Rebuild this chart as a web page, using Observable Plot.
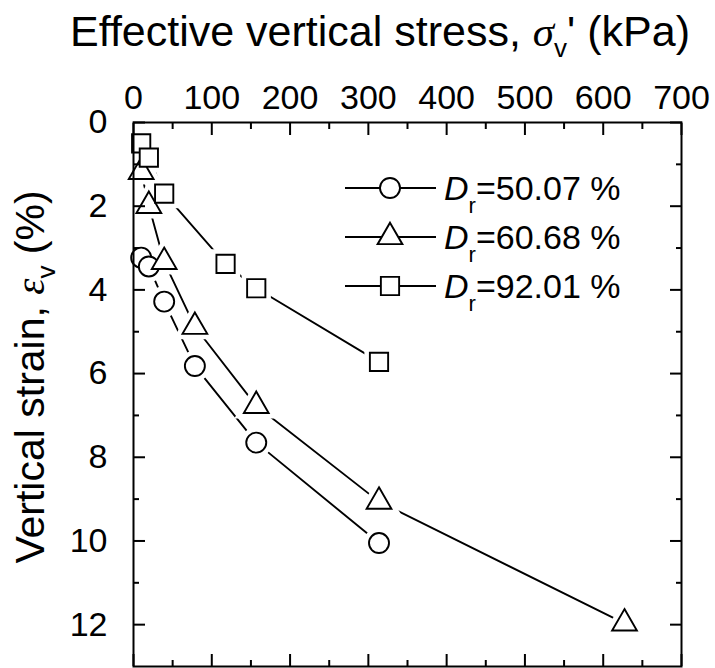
<!DOCTYPE html>
<html><head><meta charset="utf-8">
<script src="https://cdn.jsdelivr.net/npm/d3@7"></script>
<script src="https://cdn.jsdelivr.net/npm/@observablehq/plot@0.6"></script>
<style>
body{margin:0;background:#fff}
svg{font-family:"Liberation Sans",Arial,sans-serif}
</style>
</head><body><div id="chart"></div>
<script>
// ---- data ----
const seriesNames = ["50.07", "60.68", "92.01"];
const stress50 = [9.8, 19.6, 39.2, 78.4, 156.8, 313.6];
const strain50 = [3.23, 3.44, 4.28, 5.82, 7.65, 10.05];
const stress60 = [9.8, 19.6, 39.2, 78.4, 156.8, 313.6, 627.2];
const strain60 = [1.18, 1.99, 3.33, 4.88, 6.77, 9.06, 11.97];
const stress92 = [9.8, 19.6, 39.2, 117.6, 156.8, 313.6];
const strain92 = [0.50, 0.84, 1.70, 3.38, 3.96, 5.72];
const xTicks = [0, 100, 200, 300, 400, 500, 600, 700];
const xMinor = [50, 150, 250, 350, 450, 550, 650];
const yTicks = [0, 2, 4, 6, 8, 10, 12];
const yMinor = [1, 3, 5, 7, 9, 11];

const mk = (name, xs, ys) => xs.map((x, i) => ({series: name, stress: x, strain: ys[i]}));
const d50 = mk(seriesNames[0], stress50, strain50);
const d60 = mk(seriesNames[1], stress60, strain60);
const d92 = mk(seriesNames[2], stress92, strain92);

const SW = 1.9;
const R = {circle: 10, triangle: 9.2, square: 10.3};
const FS = 34;

const lineOpts = {x: "stress", y: "strain", stroke: "black", strokeWidth: SW};
const halo = (data, symbol) => Plot.dot(data, {x: "stress", y: "strain", symbol, r: R[symbol], fill: "white", stroke: "white", strokeWidth: 11});
const marker = (data, symbol) => Plot.dot(data, {x: "stress", y: "strain", symbol, r: R[symbol], fill: "white", stroke: "black", strokeWidth: SW});

const chart = Plot.plot({
  width: 715,
  height: 668,
  marginTop: 122,
  marginLeft: 133,
  marginRight: 34,
  marginBottom: 2,
  style: {fontFamily: '"Liberation Sans", Arial, sans-serif', background: "white", overflow: "visible"},
  x: {domain: [0, 700], axis: null},
  y: {domain: [0, 13], reverse: true, axis: null},
  marks: [
    Plot.line(d50, lineOpts),
    Plot.line(d60, lineOpts),
    Plot.line(d92, lineOpts),
    halo(d50, "circle"), halo(d60, "triangle"), halo(d92, "square"),
    marker(d50, "circle"), marker(d60, "triangle"), marker(d92, "square"),
    Plot.frame({stroke: "black", strokeWidth: 2}),
    // tick labels
    Plot.axisX({anchor: "top", ticks: xTicks, tickSize: 0, tickPadding: 14, fontSize: FS, label: null, tickFormat: d => d}),
    Plot.axisY({anchor: "left", ticks: yTicks, tickSize: 0, tickPadding: 26, fontSize: FS, label: null, tickFormat: d => d}),
    // inward ticks
    Plot.axisX({anchor: "top", ticks: xTicks, tickSize: -12, strokeWidth: 2, tickFormat: () => "", label: null}),
    Plot.axisX({anchor: "top", ticks: xMinor, tickSize: -6, strokeWidth: 2, tickFormat: () => "", label: null}),
    Plot.axisX({anchor: "bottom", ticks: xTicks, tickSize: -12, strokeWidth: 2, tickFormat: () => "", label: null}),
    Plot.axisX({anchor: "bottom", ticks: xMinor, tickSize: -6, strokeWidth: 2, tickFormat: () => "", label: null}),
    Plot.axisY({anchor: "left", ticks: yTicks, tickSize: -12, strokeWidth: 2, tickFormat: () => "", label: null}),
    Plot.axisY({anchor: "left", ticks: yMinor, tickSize: -6, strokeWidth: 2, tickFormat: () => "", label: null}),
    Plot.axisY({anchor: "right", ticks: yTicks, tickSize: -12, strokeWidth: 2, tickFormat: () => "", label: null}),
    Plot.axisY({anchor: "right", ticks: yMinor, tickSize: -6, strokeWidth: 2, tickFormat: () => "", label: null})
  ]
});

const svg = d3.select(chart);

// top title
const tt = svg.append("text").attr("x", 380).attr("y", 46).attr("text-anchor", "middle")
  .attr("font-size", 43).attr("fill", "black");
tt.append("tspan").text("Effective vertical stress, ");
tt.append("tspan").attr("font-family", '"Liberation Serif", serif').attr("font-style", "italic").text("σ");
tt.append("tspan").attr("font-size", 26).attr("dy", 11).text("v");
tt.append("tspan").attr("dy", -11).text("' (kPa)");

// y title
const yt = svg.append("text").attr("transform", "translate(44,377) rotate(-90)").attr("text-anchor", "middle")
  .attr("font-size", 41).attr("fill", "black");
yt.append("tspan").text("Vertical strain, ");
yt.append("tspan").attr("font-family", '"Liberation Serif", serif').attr("font-style", "italic").text("ε");
yt.append("tspan").attr("font-size", 26).attr("dy", 11).text("v");
yt.append("tspan").attr("dy", -11).text(" (%)");

// legend
const legendSymbols = ["circle", "triangle", "square"];
const symMap = {circle: d3.symbolCircle, triangle: d3.symbolTriangle, square: d3.symbolSquare};
const lg = svg.append("g");
seriesNames.forEach((name, i) => {
  const cy = 188 + i * 49;
  const g = lg.append("g").attr("transform", `translate(0,${cy})`);
  g.append("line").attr("x1", 345).attr("x2", 436).attr("y1", 0).attr("y2", 0).attr("stroke", "black").attr("stroke-width", SW);
  const s = legendSymbols[i];
  g.append("path").attr("transform", "translate(390,0)")
    .attr("d", d3.symbol(symMap[s], Math.PI * R[s] * R[s])())
    .attr("fill", "white").attr("stroke", "black").attr("stroke-width", SW);
  const t = g.append("text").attr("x", 444).attr("y", 12).attr("text-anchor", "start").attr("font-size", FS).attr("fill", "black");
  t.append("tspan").attr("font-style", "italic").text("D");
  t.append("tspan").attr("font-size", 22).attr("dy", 13).text("r");
  t.append("tspan").attr("dy", -13).text(`=${name} %`);
});

document.getElementById("chart").appendChild(chart);
</script>
</body></html>
